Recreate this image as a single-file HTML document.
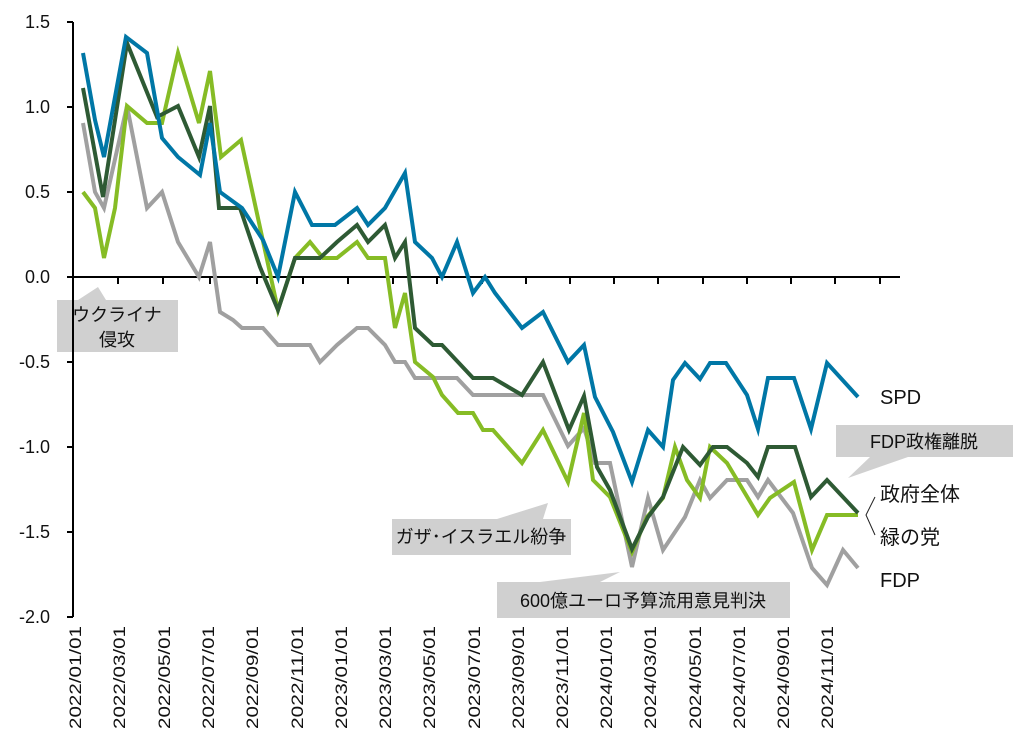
<!DOCTYPE html>
<html><head><meta charset="utf-8"><style>
html,body{margin:0;padding:0;background:#fff;}
svg{display:block;font-family:"Liberation Sans","Noto Sans CJK JP",sans-serif;}
</style></head><body>
<svg width="1027" height="739" viewBox="0 0 1027 739" xmlns="http://www.w3.org/2000/svg">
<rect width="1027" height="739" fill="#fff"/>
<!-- callouts -->
<g fill="#d0d0d0">
<path d="M57,300 H78 L98,287 L106,300 H178 V352 H57 Z"/>
<path d="M392,519 H497 L548,503 L543,519 H571 V555 H392 Z"/>
<path d="M497,582 H540 L620,572 L600,582 H790 V618 H497 Z"/>
<path d="M836,425 H1013 V457 H908 L848,478 L870,457 H836 Z"/>
</g>
<g font-size="18" fill="#111">
<text x="117" y="321" text-anchor="middle">ウクライナ</text>
<text x="117" y="346" text-anchor="middle">侵攻</text>
<text x="481" y="543" text-anchor="middle">ガザ･イスラエル紛争</text>
<text x="643" y="607" text-anchor="middle">600億ユーロ予算流用意見判決</text>
<text x="924" y="448" text-anchor="middle">FDP政権離脱</text>
</g>
<!-- axes -->
<g stroke="#000" stroke-width="2" fill="none">
<line x1="73" y1="22" x2="73" y2="617"/>
<line x1="73" y1="277" x2="900" y2="277"/>
<path d="M67,22H73M67,107H73M67,192H73M67,277H73M67,362H73M67,447H73M67,532H73M67,617H73"/>
<path d="M118,277V284M163,277V284M210,277V284M257,277V284M303,277V284M348,277V284M393,277V284M437,277V284M482,277V284M526,277V284M570,277V284M614,277V284M658,277V284M703,277V284M747,277V284M791,277V284M835,277V284M880,277V284"/>
</g>
<g font-size="18" fill="#111" text-anchor="end">
<text x="50" y="28">1.5</text><text x="50" y="113">1.0</text><text x="50" y="198">0.5</text><text x="50" y="283">0.0</text>
<text x="50" y="368">-0.5</text><text x="50" y="453">-1.0</text><text x="50" y="538">-1.5</text><text x="50" y="623">-2.0</text>
</g>
<g font-size="17" fill="#111" text-anchor="end">
<text transform="translate(81,626) rotate(-90)" textLength="103" lengthAdjust="spacingAndGlyphs">2022/01/01</text>
<text transform="translate(125,626) rotate(-90)" textLength="103" lengthAdjust="spacingAndGlyphs">2022/03/01</text>
<text transform="translate(170,626) rotate(-90)" textLength="103" lengthAdjust="spacingAndGlyphs">2022/05/01</text>
<text transform="translate(214,626) rotate(-90)" textLength="103" lengthAdjust="spacingAndGlyphs">2022/07/01</text>
<text transform="translate(258,626) rotate(-90)" textLength="103" lengthAdjust="spacingAndGlyphs">2022/09/01</text>
<text transform="translate(303,626) rotate(-90)" textLength="103" lengthAdjust="spacingAndGlyphs">2022/11/01</text>
<text transform="translate(347,626) rotate(-90)" textLength="103" lengthAdjust="spacingAndGlyphs">2023/01/01</text>
<text transform="translate(391,626) rotate(-90)" textLength="103" lengthAdjust="spacingAndGlyphs">2023/03/01</text>
<text transform="translate(435,626) rotate(-90)" textLength="103" lengthAdjust="spacingAndGlyphs">2023/05/01</text>
<text transform="translate(480,626) rotate(-90)" textLength="103" lengthAdjust="spacingAndGlyphs">2023/07/01</text>
<text transform="translate(524,626) rotate(-90)" textLength="103" lengthAdjust="spacingAndGlyphs">2023/09/01</text>
<text transform="translate(568,626) rotate(-90)" textLength="103" lengthAdjust="spacingAndGlyphs">2023/11/01</text>
<text transform="translate(612,626) rotate(-90)" textLength="103" lengthAdjust="spacingAndGlyphs">2024/01/01</text>
<text transform="translate(656,626) rotate(-90)" textLength="103" lengthAdjust="spacingAndGlyphs">2024/03/01</text>
<text transform="translate(701,626) rotate(-90)" textLength="103" lengthAdjust="spacingAndGlyphs">2024/05/01</text>
<text transform="translate(745,626) rotate(-90)" textLength="103" lengthAdjust="spacingAndGlyphs">2024/07/01</text>
<text transform="translate(789,626) rotate(-90)" textLength="103" lengthAdjust="spacingAndGlyphs">2024/09/01</text>
<text transform="translate(833,626) rotate(-90)" textLength="103" lengthAdjust="spacingAndGlyphs">2024/11/01</text>
</g>
<g fill="none" stroke-width="4" stroke-linejoin="miter">
<polyline stroke="#a0a0a0" points="83,123 95,192 104,208 127,106 147,208 162,192 178,242 199,277 210,242 220,312 233,320 242,328 263,328 278,345 310,345 320,362 337,345 357,328 368,328 385,345 395,362 405,362 415,378 457,378 473,395 543,395 568,446 584,428 595,463 610,463 632,567 648,498 663,550 685,517 700,480 710,498 727,480 747,480 758,497 768,480 793,513 812,568 827,585 843,550 858,568"/>
<polyline stroke="#86bc25" points="83,192 95,208 104,258 115,208 127,106 147,123 162,123 178,53 199,123 210,71 221,157 241,140 278,310 295,258 310,242 323,258 337,258 357,242 368,258 385,258 395,328 405,293 415,362 433,377 442,395 458,413 473,413 483,430 493,430 522,463 543,430 568,482 584,413 593,480 610,497 632,552 647,517 663,498 675,447 687,480 700,498 710,447 727,463 758,515 770,498 794,482 812,550 827,515 858,515"/>
<polyline stroke="#2e5a34" points="83,88 103,197 127,43 157,117 178,106 199,157 210,106 219,208 240,208 260,267 278,310 295,258 320,258 337,242 357,225 368,242 385,225 395,258 405,242 415,328 433,345 442,345 473,378 493,378 522,395 543,362 569,430 584,396 597,467 610,490 632,549 648,517 663,497 675,467 683,447 700,465 713,447 727,447 747,463 758,477 768,447 795,447 811,497 827,480 858,513"/>
<polyline stroke="#0077a6" points="83,53 95,120 104,157 126,37 147,53 162,138 178,157 200,175 210,123 220,192 242,208 263,240 278,277 295,192 312,225 335,225 357,208 368,225 385,208 405,173 415,242 432,258 442,277 457,242 473,293 485,277 495,293 522,328 543,312 568,362 584,345 595,397 613,432 632,482 648,430 663,447 673,380 685,363 700,379 710,363 726,363 747,395 758,429 768,378 794,378 811,429 827,363 858,397"/>
</g>
<path d="M875,497 L866,515 L875,535" fill="none" stroke="#222" stroke-width="1"/>
<g font-size="20" fill="#111">
<text x="880" y="404">SPD</text>
<text x="880" y="501">政府全体</text>
<text x="880" y="544">緑の党</text>
<text x="880" y="587">FDP</text>
</g>
</svg>
</body></html>
